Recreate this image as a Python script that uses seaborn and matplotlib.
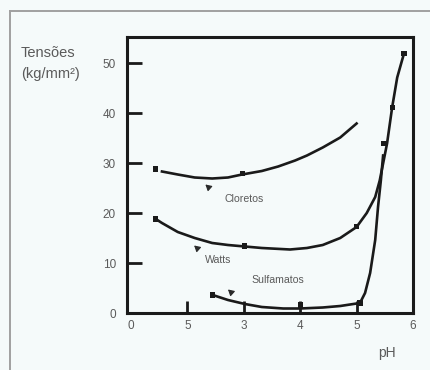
import matplotlib
matplotlib.use("Agg")
import matplotlib.pyplot as plt
from matplotlib.lines import Line2D
import pandas as pd
import seaborn as sns

# Curve traces (pH, tension in kg/mm²)
cloretos_ph = [1.55, 1.83, 2.13, 2.44, 2.72, 2.97, 3.32, 3.61, 3.91, 4.12, 4.40, 4.71, 5.00]
cloretos_t = [28.3, 27.7, 27.1, 26.9, 27.1, 27.7, 28.4, 29.3, 30.5, 31.5, 33.1, 35.1, 37.9]

watts_ph = [1.44, 1.55, 1.83, 2.13, 2.44, 2.72, 3.02, 3.32, 3.82, 4.12, 4.40, 4.71, 5.00,
            5.18, 5.33, 5.41, 5.47, 5.54, 5.63, 5.72, 5.84]
watts_t = [18.8, 18.0, 16.2, 15.0, 14.0, 13.6, 13.3, 13.0, 12.7, 13.0, 13.6, 15.0, 17.2,
           20.0, 23.2, 26.5, 29.9, 33.9, 41.1, 47.1, 51.9]

sulf_ph = [2.45, 2.72, 3.02, 3.32, 3.70, 4.00, 4.40, 4.71, 5.06, 5.15, 5.24, 5.33, 5.38,
           5.43, 5.47]
sulf_t = [3.6, 2.6, 1.8, 1.2, 0.9, 0.9, 1.1, 1.4, 2.0, 4.0, 8.0, 14.6, 21.2, 26.5, 31.5]

# Measured points
pts_ph = [1.44, 2.98, 1.44, 3.02, 5.00, 2.45, 4.00, 5.06, 5.47, 5.63, 5.84]
pts_t = [28.8, 27.9, 18.8, 13.4, 17.3, 3.6, 1.6, 2.0, 33.9, 41.1, 51.9]

x_ticks = [1, 2, 3, 4, 5, 6]
x_tick_labels = ["0", "5", "3", "4", "5", "6"]
y_ticks = [0, 10, 20, 30, 40, 50]

curve_names = ["Cloretos", "Watts", "Sulfamatos"]
label_pos = {"Cloretos": (3.0, 22.7), "Watts": (2.54, 10.6), "Sulfamatos": (3.61, 6.6)}
arrow_tip = {"Cloretos": (2.32, 25.7), "Watts": (2.12, 13.5), "Sulfamatos": (2.72, 4.7)}

curves = pd.concat([
    pd.DataFrame({"pH": cloretos_ph, "t": cloretos_t, "serie": "Cloretos"}),
    pd.DataFrame({"pH": watts_ph, "t": watts_t, "serie": "Watts"}),
    pd.DataFrame({"pH": sulf_ph, "t": sulf_t, "serie": "Sulfamatos"}),
], ignore_index=True)
points = pd.DataFrame({"pH": pts_ph, "t": pts_t})

bg = "#f5fafa"
grey = "#5a5a5a"
ink = "#1a1a1a"
plt.rcParams["font.family"] = ["Liberation Sans", "DejaVu Sans"]

fig = plt.figure(figsize=(4.3, 3.7), dpi=100, facecolor=bg)
ax = fig.add_axes([127 / 430, 1 - 313 / 370, (413 - 127) / 430, (313 - 37) / 370])
ax.set_facecolor(bg)

sns.lineplot(data=curves, x="pH", y="t", hue="serie", hue_order=curve_names,
             palette=[ink] * 3, sort=False, estimator=None,
             linewidth=1.9, legend=False, ax=ax)
sns.scatterplot(data=points, x="pH", y="t", marker="s", s=14, color=ink,
                edgecolor="none", legend=False, ax=ax)

for name in curve_names:
    lx, ly = label_pos[name]
    ax.text(lx, ly, name, fontsize=7.6, color=grey, ha="center", va="center")
    tx, ty = arrow_tip[name]
    ax.annotate("", xy=(tx, ty), xytext=(tx + 0.07, ty - 0.7),
                arrowprops=dict(arrowstyle="-|>,head_length=0.35,head_width=0.2",
                                color="#2a2a2a", lw=0.8))

ax.set_xlim(0.93, 6.0)
ax.set_ylim(0, 55.2)
ax.set_xticks(x_ticks)
ax.set_xticklabels(x_tick_labels)
ax.set_yticks(y_ticks)
ax.tick_params(axis="both", direction="in", width=2.0, color=ink,
               labelsize=8.5, labelcolor=grey)
ax.tick_params(axis="y", length=11, pad=8)
ax.tick_params(axis="x", length=9, pad=5)
ax.xaxis.get_major_ticks()[0].tick1line.set_visible(False)
for sp in ax.spines.values():
    sp.set_linewidth(2.2)
    sp.set_color(ink)
ax.set_xlabel("")
ax.set_ylabel("")

fig.text(21 / 430, 1 - 53 / 370, "Tensões", fontsize=10.5, color=grey, ha="left", va="center")
fig.text(21 / 430, 1 - 74 / 370, "(kg/mm²)", fontsize=10.5, color=grey, ha="left", va="center")
fig.text(387 / 430, 1 - 353 / 370, "pH", fontsize=10, color=grey, ha="center", va="center")

# outer frame
fig.add_artist(Line2D([10 / 430, 10 / 430], [0, 1 - 11 / 370], color="#a0a0a0", lw=1.4))
fig.add_artist(Line2D([10 / 430, 1], [1 - 11 / 370, 1 - 11 / 370], color="#a0a0a0", lw=1.4))

fig.savefig("out.png", dpi=100, facecolor=bg)
